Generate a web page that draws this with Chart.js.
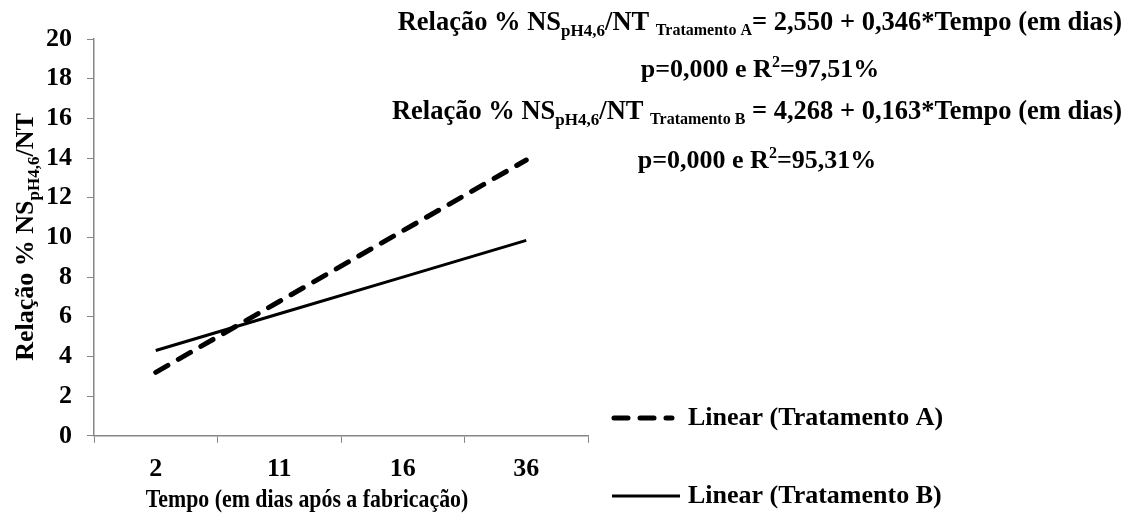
<!DOCTYPE html>
<html>
<head>
<meta charset="utf-8">
<script src="https://cdn.jsdelivr.net/npm/chart.js@4"></script>
<style>
  body { margin: 0; background: #fff; }
  #wrap { width: 1140px; height: 520px; }
</style>
</head>
<body>
<div id="wrap"><canvas id="myChart" width="1140" height="520"></canvas></div>
<script>
// data
var categories = ['2', '11', '16', '36'];
var tratamentoA = [3.2, 6.77, 10.33, 13.9];
var tratamentoB = [4.3, 6.15, 8.0, 9.85];
var yTicks = [0, 2, 4, 6, 8, 10, 12, 14, 16, 18, 20];

var FONT = '"Liberation Serif", "Times New Roman", serif';
var AXIS_GREY = '#868686';

// draws a list of text runs (normal / sub / sup) on one baseline
function drawRuns(ctx, runs, x, y, align) {
  var total = 0;
  runs.forEach(function (r) {
    ctx.font = 'bold ' + r.size + 'px ' + FONT;
    r.w = ctx.measureText(r.t).width;
    total += r.w;
  });
  var cx = align === 'right' ? x - total : align === 'center' ? x - total / 2 : x;
  runs.forEach(function (r) {
    ctx.font = 'bold ' + r.size + 'px ' + FONT;
    ctx.fillText(r.t, cx, y + (r.dy || 0));
    cx += r.w;
  });
}

var textPlugin = {
  id: 'texts',
  afterDraw: function (chart) {
    var ctx = chart.ctx;
    ctx.save();
    ctx.fillStyle = '#000';
    ctx.textBaseline = 'alphabetic';
    ctx.textAlign = 'left';

    // equations
    drawRuns(ctx, [
      { t: 'Relação % NS', size: 26.5 },
      { t: 'pH4,6', size: 17, dy: 6 },
      { t: '/NT ', size: 26.5 },
      { t: 'Tratamento A', size: 16, dy: 5 },
      { t: '= 2,550 + 0,346*Tempo (em dias)', size: 26.5 }
    ], 1122, 30, 'right');
    drawRuns(ctx, [
      { t: 'p=0,000 e R', size: 26 },
      { t: '2', size: 16, dy: -10 },
      { t: '=97,51%', size: 26 }
    ], 760, 77, 'center');
    drawRuns(ctx, [
      { t: 'Relação % NS', size: 26.5 },
      { t: 'pH4,6', size: 17, dy: 6 },
      { t: '/NT ', size: 26.5 },
      { t: 'Tratamento B', size: 16, dy: 5 },
      { t: ' = 4,268 + 0,163*Tempo (em dias)', size: 26.5 }
    ], 1122, 119, 'right');
    drawRuns(ctx, [
      { t: 'p=0,000 e R', size: 26 },
      { t: '2', size: 16, dy: -10 },
      { t: '=95,31%', size: 26 }
    ], 757, 168, 'center');

    // y axis title with subscript, rotated
    ctx.save();
    ctx.translate(33, 237);
    ctx.rotate(-Math.PI / 2);
    drawRuns(ctx, [
      { t: 'Relação % NS', size: 26 },
      { t: 'pH4,6', size: 17, dy: 6 },
      { t: '/NT', size: 26 }
    ], 0, 0, 'center');
    ctx.restore();

    // x axis title, a little condensed like the original
    ctx.save();
    ctx.translate(307, 507);
    ctx.scale(0.84, 1);
    ctx.font = 'bold 26px ' + FONT;
    ctx.textAlign = 'center';
    ctx.fillText('Tempo (em dias após a fabricação)', 0, 0);
    ctx.restore();

    // legend
    var legendY = [418, 496];
    chart.data.datasets.forEach(function (ds, i) {
      var y = legendY[i];
      ctx.save();
      ctx.strokeStyle = ds.borderColor;
      ctx.lineWidth = ds.borderWidth;
      ctx.lineCap = ds.borderCapStyle || 'butt';
      ctx.setLineDash(ds.borderDash || []);
      ctx.beginPath();
      ctx.moveTo(i === 0 ? 614 : 612, y);
      ctx.lineTo(i === 0 ? 672 : 680, y);
      ctx.stroke();
      ctx.restore();
      ctx.font = 'bold 26px ' + FONT;
      ctx.textBaseline = 'middle';
      ctx.fillText(ds.label, 688, y);
      ctx.textBaseline = 'alphabetic';
    });
    ctx.restore();
  }
};

var ctx = document.getElementById('myChart').getContext('2d');
var chart = new Chart(ctx, {
  type: 'line',
  data: {
    labels: categories,
    datasets: [
      {
        label: 'Linear (Tratamento A)',
        data: tratamentoA,
        borderColor: '#000',
        borderWidth: 5,
        borderDash: [14, 12],
        borderCapStyle: 'round',
        pointRadius: 0,
        tension: 0
      },
      {
        label: 'Linear (Tratamento B)',
        data: tratamentoB,
        borderColor: '#000',
        borderWidth: 3,
        pointRadius: 0,
        tension: 0
      }
    ]
  },
  options: {
    responsive: false,
    animation: false,
    layout: { padding: { left: 31, right: 552, top: 39, bottom: 24 } },
    plugins: {
      legend: { display: false },
      tooltip: { enabled: false }
    },
    scales: {
      x: {
        offset: true,
        grid: { offset: true, drawOnChartArea: false, tickLength: 7, color: AXIS_GREY },
        border: { color: AXIS_GREY, width: 1.5 },
        ticks: { color: '#000', font: { family: FONT, size: 26, weight: 'bold' }, padding: 11 }
      },
      y: {
        min: 0,
        max: 20,
        afterBuildTicks: function (axis) {
          axis.ticks = yTicks.map(function (v) { return { value: v }; });
        },
        grid: { drawOnChartArea: false, tickLength: 7, color: AXIS_GREY },
        border: { color: AXIS_GREY, width: 1.5 },
        ticks: { color: '#000', font: { family: FONT, size: 26, weight: 'bold' }, padding: 15 }
      }
    }
  },
  plugins: [textPlugin]
});
</script>
</body>
</html>
